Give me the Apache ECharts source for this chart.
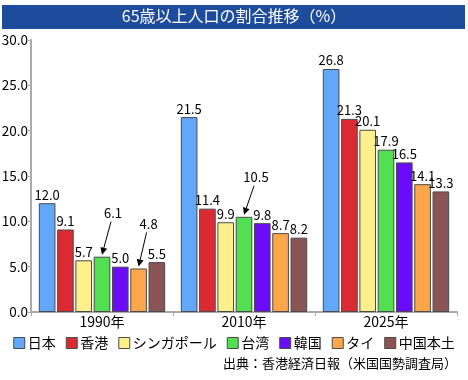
<!DOCTYPE html>
<html><head><meta charset="utf-8">
<script src="https://cdn.jsdelivr.net/npm/echarts@6/dist/echarts.min.js"></script>
<style>html,body{margin:0;padding:0;background:#fff}#c{width:468px;height:380px}</style>
</head><body><div id="c"></div>
<script>
const title = '65歳以上人口の割合推移（%）';
const source = '出典：香港経済日報（米国国勢調査局）';
const years = ['1990年', '2010年', '2025年'];
const seriesNames = ['日本', '香港', 'シンガポール', '台湾', '韓国', 'タイ', '中国本土'];
const japan     = [12.0, 21.5, 26.8];
const hongkong  = [9.1, 11.4, 21.3];
const singapore = [5.7, 9.9, 20.1];
const taiwan    = [6.1, 10.5, 17.9];
const korea     = [5.0, 9.8, 16.5];
const thailand  = [4.8, 8.7, 14.1];
const china     = [5.5, 8.2, 13.3];
const values = [japan, hongkong, singapore, taiwan, korea, thailand, china];
const colors = ['#62a8fa', '#dc2a32', '#fff08c', '#52e052', '#6a0cfa', '#ffa64a', '#8a5454'];
// labels moved up with an arrow: [seriesIndex, categoryIndex, offsetX, offsetY]
const callouts = [[3, 0, 11, -35], [5, 0, 10, -36], [3, 1, 12, -31]];

const FONT = '"Noto Sans CJK JP", sans-serif';
const chart = echarts.init(document.getElementById('c'), null, {renderer: 'canvas'});

const series = seriesNames.map((name, si) => ({
  name, type: 'bar',
  barCategoryGap: '11%', barGap: '10%',
  itemStyle: {color: colors[si], borderColor: '#4a4a4a', borderWidth: 1},
  label: {show: true, position: 'top', distance: 2, color: '#000', fontFamily: FONT, fontSize: 13,
          formatter: p => p.value.toFixed(1)},
  data: values[si].map((v, ci) => {
    const c = callouts.find(k => k[0] === si && k[1] === ci);
    return c ? {value: v, label: {offset: [c[2], c[3]]}} : v;
  })
}));

chart.setOption({
  animation: false,
  textStyle: {fontFamily: FONT},
  grid: {left: 31, right: 11, top: 40, bottom: 68, containLabel: false, outerBoundsMode: 'none'},
  xAxis: {type: 'category', data: years,
    axisLine: {lineStyle: {color: '#aaaaaa', width: 2}},
    axisTick: {show: true, length: 4, lineStyle: {color: '#aaaaaa', width: 1}},
    axisLabel: {color: '#000', fontSize: 14, margin: 3, fontFamily: FONT}},
  yAxis: {type: 'value', min: 0, max: 30, interval: 5,
    axisLine: {show: true, lineStyle: {color: '#aaaaaa', width: 2}},
    axisTick: {show: true, length: 3, lineStyle: {color: '#aaaaaa'}},
    splitLine: {show: false},
    axisLabel: {color: '#000', fontSize: 13.5, margin: 3, fontFamily: FONT, formatter: v => v.toFixed(1)}},
  legend: {left: 'center', top: 331, itemWidth: 11, itemHeight: 11, itemGap: 10,
    icon: 'rect', textStyle: {fontSize: 14, color: '#000', fontFamily: FONT, padding: [0, 0, 0, -2]},
    data: seriesNames.map((n, i) => ({name: n, itemStyle: {borderColor: '#4a4a4a', borderWidth: 1}}))},
  series
});

// arrows from moved labels to their bars, using the library's bar layout
const g = [
  {type: 'rect', shape: {x: 2, y: 5, width: 463, height: 24}, style: {fill: '#1d4c9c'}},
  {type: 'text', left: 'center', top: 8, style: {text: title, fill: '#fff', fontSize: 16, fontFamily: FONT}},
  {type: 'text', right: 11, top: 357, style: {text: source, fill: '#000', fontSize: 13, fontFamily: FONT}}
];
const model = chart.getModel();
callouts.forEach(([si, ci, ox, oy]) => {
  const lay = model.getSeriesByIndex(si).getData().getItemLayout(ci);
  const cx = lay.x + lay.width / 2;
  const top = Math.min(lay.y, lay.y + lay.height);
  const lx = cx + ox, ly = top - 2 - 7 + oy;
  const x1 = lx - 2, y1 = ly + 9, x2 = cx, y2 = top - 2;
  const ang = Math.atan2(y2 - y1, x2 - x1);
  const L = 7, W = 3.5;
  const bx = x2 - L * Math.cos(ang), by = y2 - L * Math.sin(ang);
  const px = -Math.sin(ang) * W, py = Math.cos(ang) * W;
  g.push({type: 'line', shape: {x1, y1, x2: bx, y2: by}, style: {stroke: '#000', lineWidth: 1}});
  g.push({type: 'polygon', shape: {points: [[x2, y2], [bx + px, by + py], [bx - px, by - py]]}, style: {fill: '#000'}});
});
chart.setOption({graphic: g});
</script></body></html>
